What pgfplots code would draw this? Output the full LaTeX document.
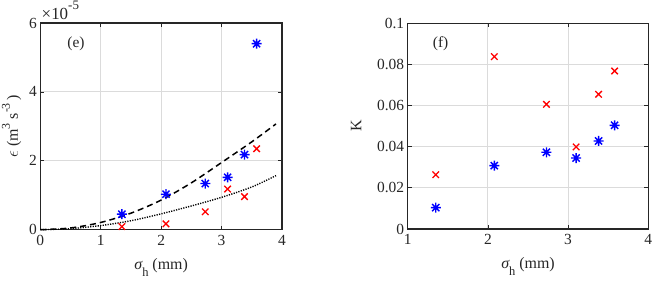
\documentclass[border=0pt]{standalone}
\usepackage{fontspec}
\setmainfont{Liberation Serif}
\usepackage{pgfplots}
\pgfplotsset{compat=1.18}
\pgfdeclareplotmark{mstar}{%
  \pgfpathmoveto{\pgfqpoint{-\pgfplotmarksize}{0pt}}\pgfpathlineto{\pgfqpoint{\pgfplotmarksize}{0pt}}%
  \pgfpathmoveto{\pgfqpoint{0pt}{-\pgfplotmarksize}}\pgfpathlineto{\pgfqpoint{0pt}{\pgfplotmarksize}}%
  \pgfpathmoveto{\pgfqpoint{-0.72\pgfplotmarksize}{-0.72\pgfplotmarksize}}\pgfpathlineto{\pgfqpoint{0.72\pgfplotmarksize}{0.72\pgfplotmarksize}}%
  \pgfpathmoveto{\pgfqpoint{-0.72\pgfplotmarksize}{0.72\pgfplotmarksize}}\pgfpathlineto{\pgfqpoint{0.72\pgfplotmarksize}{-0.72\pgfplotmarksize}}%
  \pgfusepathqstroke}
\definecolor{mblue}{rgb}{0,0,1}
\definecolor{mred}{rgb}{1,0,0}
\definecolor{axgray}{gray}{0.15}
\definecolor{gridgray}{gray}{0.86}
\newcommand{\msup}[1]{\raisebox{0.5em}{\fontsize{12}{12}\selectfont #1}}
\pgfplotsset{
  mstyle/.style={
    scale only axis,
    axis line style={axgray, line width=1.1bp},
    tick style={axgray, line width=0.8bp},
    tick align=inside,
    major tick length=4bp,
    grid=major,
    major grid style={gridgray, line width=0.9bp},
    tick label style={font=\fontsize{15.5}{17}\selectfont, text=axgray},
    label style={font=\fontsize{16}{18}\selectfont, text=axgray},
    xticklabel shift=2bp,
    xlabel shift=6bp,
    /pgf/number format/assume math mode=true,
  },
  bstar/.style={only marks, mark=mstar, mark size=5bp, color=mblue, line width=1.4bp},
  rx/.style={only marks, mark=x, mark size=4.6bp, color=mred, line width=1.3bp},
}
\begin{document}
\begin{tikzpicture}
\path[use as bounding box] (0bp,0bp) rectangle (654bp,282bp);
% left panel (e)
\begin{axis}[mstyle,
  at={(40.3bp,52.3bp)}, anchor=south west,
  width=241.7bp, height=206.7bp,
  xmin=0, xmax=4, ymin=0, ymax=6,
  xtick={0,1,2,3,4}, ytick={0,2,4,6},
  ylabel shift=1bp,
  xlabel={{\itshape σ}\raisebox{-0.45em}{\fontsize{12.5}{12}\selectfont h} (mm)},
  ylabel={$\epsilon$ (m\msup{3} s\msup{-3}\,)},
  clip=false,
]
\addplot[black, line width=1.5bp, dash pattern=on 6bp off 4bp, smooth] coordinates {
(0,0) (0.5,0.05) (1,0.21) (1.5,0.48) (2,0.86) (2.5,1.36) (3,1.95) (3.5,2.55) (3.9,3.07)};
\addplot[black, line width=1.4bp, dash pattern=on 1.2bp off 1.3bp, smooth] coordinates {
(0,0) (0.5,0.03) (1,0.12) (1.5,0.26) (2,0.46) (2.5,0.69) (3,0.94) (3.5,1.24) (3.9,1.57)};
\addplot[bstar] coordinates {(1.35,0.45) (2.08,1.03) (2.73,1.34) (3.10,1.52) (3.38,2.18) (3.58,5.40)};
\addplot[rx] coordinates {(1.35,0.09) (2.08,0.17) (2.73,0.52) (3.10,1.18) (3.38,0.96) (3.58,2.35)};
\node[font=\fontsize{15.5}{17}\selectfont, text=axgray] at (axis cs:0.59,5.4) {(e)};
\node[anchor=south west, inner sep=0pt, font=\fontsize{17}{18}\selectfont, text=axgray] at (axis cs:0.02,6.1) {×10\raisebox{0.55em}{\fontsize{13}{13}\selectfont -5}};
\end{axis}
% right panel (f)
\begin{axis}[mstyle,
  at={(407.7bp,53bp)}, anchor=south west,
  width=240.6bp, height=205.7bp,
  xmin=1, xmax=4, ymin=0, ymax=0.1,
  xtick={1,2,3,4}, ytick={0,0.02,0.04,0.06,0.08,0.1},
  yticklabel style={/pgf/number format/fixed, /pgf/number format/precision=2},
  scaled y ticks=false,
  ylabel shift=9bp,
  xlabel={{\itshape σ}\raisebox{-0.45em}{\fontsize{12.5}{12}\selectfont h} (mm)},
  ylabel={K},
  clip=false,
]
\addplot[bstar] coordinates {(1.35,0.0104) (2.08,0.0308) (2.73,0.0373) (3.10,0.0345) (3.38,0.0428) (3.58,0.0504)};
\addplot[rx] coordinates {(1.35,0.0264) (2.08,0.0838) (2.73,0.0606) (3.10,0.0399) (3.38,0.0655) (3.58,0.0768)};
\node[font=\fontsize{15.5}{17}\selectfont, text=axgray] at (axis cs:1.41,0.090) {(f)};
\end{axis}
\end{tikzpicture}
\end{document}
